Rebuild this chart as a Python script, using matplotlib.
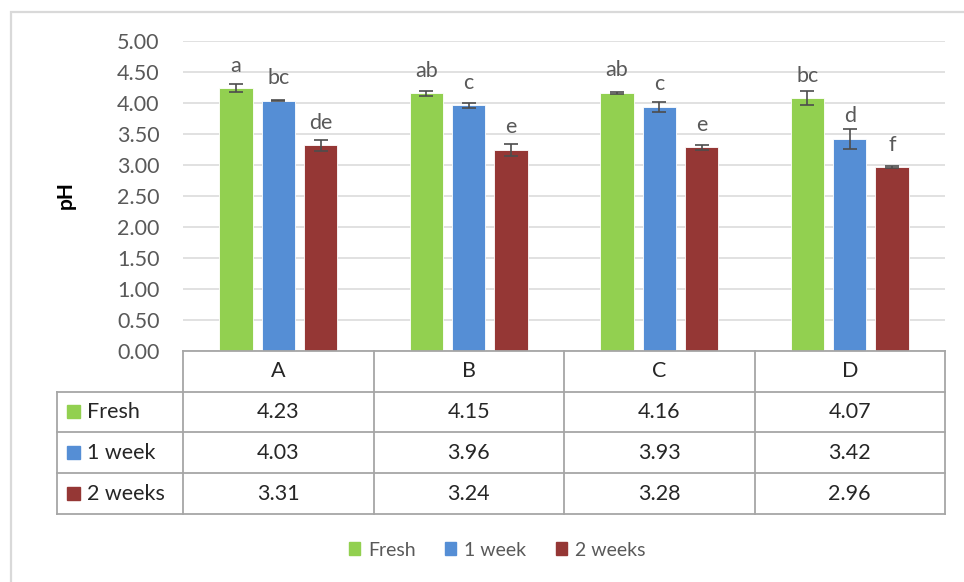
import numpy as np
import matplotlib
matplotlib.use('Agg')
import matplotlib.pyplot as plt
from matplotlib.patches import Patch, Rectangle

plt.rcParams['font.family'] = ['Lato', 'DejaVu Sans']

# ----------------------------- data -----------------------------
groups = ['A', 'B', 'C', 'D']
series = ['Fresh', '1 week', '2 weeks']
fresh = [4.23, 4.15, 4.16, 4.07]
week1 = [4.03, 3.96, 3.93, 3.42]
week2 = [3.31, 3.24, 3.28, 2.96]
err_fresh = [0.065, 0.035, 0.02, 0.115]
err_week1 = [0.01, 0.04, 0.075, 0.16]
err_week2 = [0.09, 0.10, 0.04, 0.02]
let_fresh = ['a', 'ab', 'ab', 'bc']
let_week1 = ['bc', 'c', 'c', 'd']
let_week2 = ['de', 'e', 'e', 'f']
yticks = [0, 0.5, 1, 1.5, 2, 2.5, 3, 3.5, 4, 4.5, 5]

colors = ['#92D050', '#558ED5', '#953735']
grey_txt = '#595959'
grid_c = '#D9D9D9'
table_c = '#A6A6A6'
fs = 15.5

W, H = 964, 582
fig = plt.figure(figsize=(W/100, H/100), dpi=100)

def px(x0, y0, x1, y1):
    # pixel box (top-left origin) -> figure fraction rect
    return [x0/W, 1-y1/H, (x1-x0)/W, (y1-y0)/H]

# outer chart border
fig.patches.append(Rectangle((11/W, -0.05), 1.2, 1-12/H+0.05, transform=fig.transFigure,
                             fill=False, ec='#D9D9D9', lw=1.6))

# ----------------------------- bars -----------------------------
ax = fig.add_axes(px(183, 40.7, 945, 350.7))
x = np.arange(len(groups))
bw, step = 0.175, 0.222
for i, (vals, errs, lets) in enumerate([(fresh, err_fresh, let_fresh),
                                        (week1, err_week1, let_week1),
                                        (week2, err_week2, let_week2)]):
    xs = x + (i-1)*step
    ax.bar(xs, vals, width=bw, color=colors[i], edgecolor='white', lw=0.6, zorder=3)
    ax.errorbar(xs, vals, yerr=errs, fmt='none', ecolor='#4D4D4D', elinewidth=1.2,
                capsize=5, capthick=1.2, zorder=4)
    for xi, v, t in zip(xs, vals, lets):
        ax.annotate(t, (xi, v), xytext=(0, 12), textcoords='offset points',
                    ha='center', va='baseline', fontsize=fs, color=grey_txt)

ax.set_xlim(-0.5, 3.5)
ax.set_ylim(0, 5)
ax.set_yticks(yticks)
ax.set_yticklabels([f'{t:.2f}' for t in yticks], fontsize=fs, color=grey_txt)
ax.tick_params(axis='y', length=0, pad=17)
ax.set_xticks([])
for s in ax.spines.values():
    s.set_visible(False)
ax.grid(axis='y', color=grid_c, lw=1.1, zorder=0)
ax.set_axisbelow(True)
fig.text(66/W, 1-195/H, 'pH', rotation=90, ha='center', va='center',
         fontsize=15, fontweight='bold', color='black')

# ----------------------------- data table -----------------------------
tax = fig.add_axes(px(57, 350.7, 945, 514))
left = -0.5 - 126/190.5
tax.set_xlim(left, 3.5)
tax.set_ylim(4, 0)
tax.axis('off')
lkw = dict(color=table_c, lw=1.3, clip_on=False)
# horizontal rules
tax.plot([-0.5, 3.5], [0, 0], **lkw)
for r in (1, 2, 3, 4):
    tax.plot([left, 3.5], [r, r], **lkw)
# vertical rules
tax.plot([left, left], [1, 4], **lkw)
for c in (-0.5, 0.5, 1.5, 2.5, 3.5):
    tax.plot([c, c], [0, 4], **lkw)

for j, g in enumerate(groups):
    tax.text(j, 0.5, g, ha='center', va='center', fontsize=fs, color='#262626')
for r, (name, vals) in enumerate(zip(series, [fresh, week1, week2])):
    yc = r + 1.5
    tax.add_patch(Rectangle((left + 10/190.5, yc - 0.16), 13/190.5, 0.32,
                            color=colors[r], clip_on=False))
    tax.text(left + 30/190.5, yc, name, ha='left', va='center', fontsize=fs, color='#262626')
    for j, v in enumerate(vals):
        tax.text(j, yc, f'{v:.2f}', ha='center', va='center', fontsize=fs, color='#262626')

# ----------------------------- legend -----------------------------
handles = [Patch(color=c, label=s) for c, s in zip(colors, series)]
fig.legend(handles=handles, loc='center', bbox_to_anchor=(497/W, 1-550/H), ncol=3,
           frameon=False, fontsize=14, labelcolor=grey_txt, handlelength=0.6,
           handleheight=0.6, handletextpad=0.4, columnspacing=1.5)

fig.savefig('out.png', dpi=100)
